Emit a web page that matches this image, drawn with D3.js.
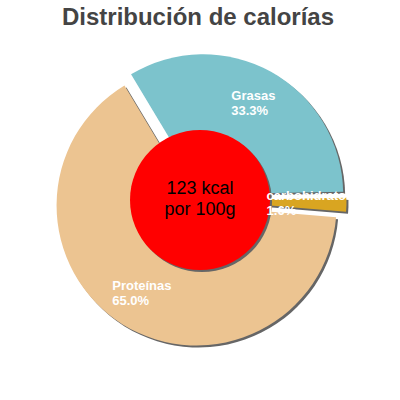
<!DOCTYPE html>
<html>
<head>
<meta charset="utf-8">
<script src="https://cdn.jsdelivr.net/npm/d3@7"></script>
<style>
  body { margin: 0; background: #fff; }
  svg { font-family: "Liberation Sans", Arial, sans-serif; }
</style>
</head>
<body>
<div id="chart"></div>
<script>
const title = "Distribución de calorías";
const labels = ["Grasas", "carbohidratos", "Proteínas"];
const percents = [33.3, 1.6, 65.0];
const colors = ["#7cc3cc", "#d9a521", "#ecc491"];
const centerText = ["123 kcal", "por 100g"];

const w = 400, h = 400;
const svg = d3.select("#chart").append("svg")
  .attr("width", w)
  .attr("height", h);

const defs = svg.append("defs");
defs.append("filter").attr("id", "blur")
  .append("feGaussianBlur").attr("stdDeviation", 0.7);

svg.append("text")
  .attr("x", 198)
  .attr("y", 25)
  .attr("text-anchor", "middle")
  .attr("font-size", 24)
  .attr("font-weight", "bold")
  .attr("fill", "#444")
  .text(title);

const cx = 200, cy = 200;
const r = 140;
const sliceOffset = 6.5;
const labelDist = 110; // from the pie centre, along the slice mid angle

const data = labels.map((label, i) => ({ label, value: percents[i], color: colors[i] }));

// first slice starts a bit before 11 o'clock, like the original
const start = -31 * Math.PI / 180;
const pie = d3.pie().sort(null).value(d => d.value)
  .startAngle(start)
  .endAngle(start + 2 * Math.PI);
const arcs = pie(data);
const arc = d3.arc().innerRadius(0).outerRadius(r);

// point at distance dist along the slice mid angle
const shift = (d, dist) => {
  const a = (d.startAngle + d.endAngle) / 2;
  return [Math.sin(a) * dist, -Math.cos(a) * dist];
};

const g = svg.append("g").attr("transform", `translate(${cx},${cy})`);

// shadows first, then slices on top
g.selectAll("path.shadow")
  .data(arcs)
  .enter()
  .append("path")
  .attr("class", "shadow")
  .attr("d", arc)
  .attr("fill", "#666")
  .attr("filter", "url(#blur)")
  .attr("transform", d => {
    const [x, y] = shift(d, sliceOffset);
    return `translate(${x + 2},${y + 2})`;
  });

g.selectAll("path.slice")
  .data(arcs)
  .enter()
  .append("path")
  .attr("class", "slice")
  .attr("d", arc)
  .attr("fill", d => d.data.color)
  .attr("transform", d => {
    const [x, y] = shift(d, sliceOffset);
    return `translate(${x},${y})`;
  });

// centre disc
g.append("circle")
  .attr("cx", 2).attr("cy", 2).attr("r", 70)
  .attr("fill", "#666")
  .attr("filter", "url(#blur)");
g.append("circle")
  .attr("r", 70)
  .attr("fill", "#ff0000");

g.selectAll("text.center")
  .data(centerText)
  .enter()
  .append("text")
  .attr("class", "center")
  .attr("text-anchor", "middle")
  .attr("font-size", 18)
  .attr("fill", "#000")
  .attr("x", 0)
  .attr("y", (d, i) => -6.5 + i * 21)
  .text(d => d);

// labels on top: two left-aligned lines centred on a point inside the slice
arcs.forEach(d => {
  const [px, py] = shift(d, labelDist);
  const lines = [d.data.label, d.data.value.toFixed(1) + "%"];
  const texts = lines.map((s, i) => g.append("text")
    .attr("y", py - 3.5 + i * 15)
    .attr("font-size", 13)
    .attr("font-weight", "bold")
    .attr("fill", "#fff")
    .text(s));
  const maxW = d3.max(texts, t => t.node().getComputedTextLength());
  texts.forEach(t => t.attr("x", px - maxW / 2));
});
</script>
</body>
</html>
